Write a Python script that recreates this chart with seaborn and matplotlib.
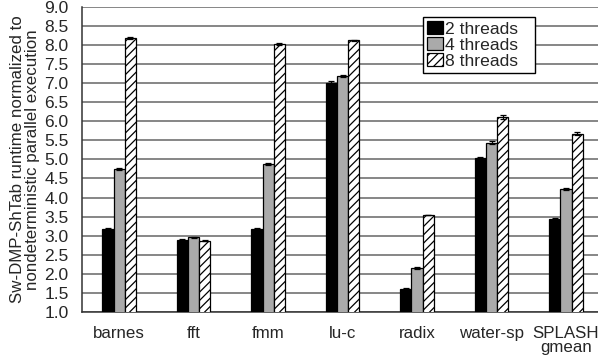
import numpy as np
import pandas as pd
import matplotlib
matplotlib.use("Agg")
import matplotlib.pyplot as plt
import seaborn as sns

categories = ["barnes", "fft", "fmm", "lu-c", "radix", "water-sp", "SPLASH\ngmean"]
series = ["2 threads", "4 threads", "8 threads"]
vals_2 = [3.18, 2.88, 3.18, 7.01, 1.60, 5.04, 3.44]
vals_4 = [4.74, 2.95, 4.88, 7.20, 2.15, 5.44, 4.23]
vals_8 = [8.19, 2.87, 8.04, 8.13, 3.54, 6.12, 5.68]
err_2 = [0.03, 0.02, 0.02, 0.04, 0.01, 0.02, 0.02]
err_4 = [0.03, 0.02, 0.02, 0.03, 0.02, 0.04, 0.03]
err_8 = [0.03, 0.02, 0.02, 0.02, 0.01, 0.05, 0.03]
y_ticks = [1.0, 1.5, 2.0, 2.5, 3.0, 3.5, 4.0, 4.5, 5.0, 5.5, 6.0, 6.5, 7.0, 7.5, 8.0, 8.5, 9.0]

sns.set_style("white")
plt.rcParams["font.family"] = ["Liberation Sans", "DejaVu Sans"]
plt.rcParams["hatch.linewidth"] = 0.9

FS = 12.2

df = pd.DataFrame({
    "category": categories * 3,
    "series": [s for s in series for _ in categories],
    "value": vals_2 + vals_4 + vals_8,
})
errs = {"2 threads": err_2, "4 threads": err_4, "8 threads": err_8}

fig = plt.figure(figsize=(5.98, 3.62), dpi=100)
ax = fig.add_axes([0.137, 0.139, 0.863, 0.841])

palette = {"2 threads": "black", "4 threads": "#aaaaaa", "8 threads": "white"}
sns.barplot(data=df, x="category", y="value", hue="series", order=categories,
            hue_order=series, palette=palette, width=0.45, gap=0,
            edgecolor="black", linewidth=0.9, errorbar=None, ax=ax, zorder=3,
            saturation=1)

for container, s in zip(ax.containers, series):
    for patch in container:
        if s == "8 threads":
            patch.set_hatch("////")
    xs = [p.get_x() + p.get_width() / 2 for p in container]
    hs = [p.get_height() + p.get_y() for p in container]
    ax.errorbar(xs, hs, yerr=errs[s], fmt="none", ecolor="black",
                elinewidth=0.9, capsize=2.5, capthick=0.9, zorder=4)

ax.set_ylim(1.0, 9.0)
ax.set_yticks(y_ticks)
ax.set_yticklabels([f"{t:.1f}" for t in y_ticks])
ax.set_xlim(-0.5, 6.43)
ax.yaxis.grid(True, color="#666666", linewidth=1.1, zorder=0)
ax.set_axisbelow(True)
for side in ["top", "right"]:
    ax.spines[side].set_visible(False)
ax.spines["left"].set_color("#333333")
ax.spines["bottom"].set_color("#333333")
ax.spines["left"].set_linewidth(1.1)
ax.spines["bottom"].set_linewidth(1.1)
ax.tick_params(axis="y", which="major", direction="out", length=9, width=1,
               color="#555555", labelsize=FS + 0.3, pad=0.5)
ax.tick_params(axis="x", which="major", direction="out", length=8, width=1,
               color="#333333", labelsize=FS, pad=2)
for lab in ax.get_xticklabels():
    lab.set_linespacing(0.95)
ax.set_xlabel("")
ax.set_ylabel("Sw-DMP-ShTab runtime normalized to\nnondeterministic parallel execution",
              fontsize=FS, labelpad=3, linespacing=1.0)

leg = ax.legend(loc="upper left",
                bbox_to_anchor=(423 / 598, 1 - 75 / 362, 112 / 598, 58 / 362),
                bbox_transform=fig.transFigure, mode="expand", frameon=True,
                fancybox=False, edgecolor="black", fontsize=FS + 0.4,
                handlelength=0.88, handleheight=0.76, handletextpad=0.15,
                labelspacing=0.02, borderpad=0.25, borderaxespad=0, title=None)
leg.get_frame().set_linewidth(1.0)
leg.get_frame().set_alpha(1)
handles = leg.legend_handles
handles[2].set_hatch("////")
for h in handles:
    h.set_edgecolor("black")
    h.set_linewidth(0.9)

fig.savefig("out.png", dpi=100)
